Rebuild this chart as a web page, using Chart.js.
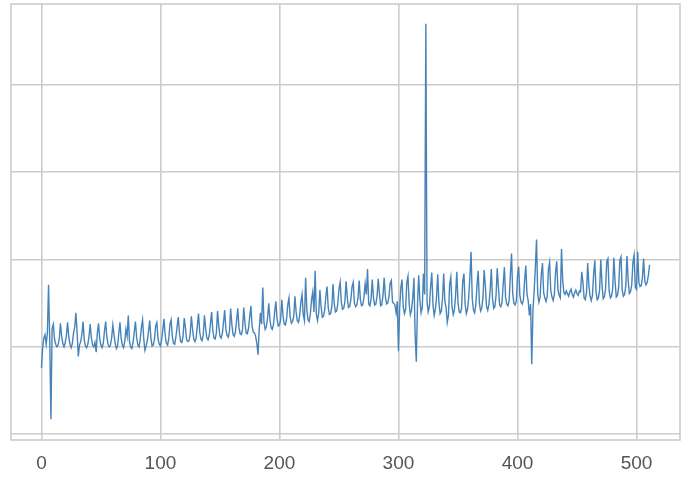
<!DOCTYPE html>
<html>
<head>
<meta charset="utf-8">
<script src="https://cdn.jsdelivr.net/npm/chart.js@4"></script>
<style>
  html, body { margin: 0; padding: 0; background: #ffffff; }
  canvas { display: block; }
</style>
</head>
<body>
<canvas id="lineChart" width="690" height="479"></canvas>
<script>
// series (y in gridline units, gridlines at 0,10,20,30,40)
const seriesValues = [
  7.6, 9.8, 11.0, 11.4, 10.3, 11.5, 17.1, 10.8, 1.7, 12.1, 12.6, 10.9, 10.3, 10.0,
  10.2, 10.9, 12.7, 11.2, 10.4, 10.0, 10.5, 11.3, 12.8, 11.1, 10.3, 9.9, 10.4, 11.6,
  12.3, 13.9, 11.6, 8.9, 10.2, 10.6, 11.4, 12.9, 10.8, 10.1, 9.9, 10.3, 11.2, 12.6,
  11.0, 10.2, 10.0, 10.5, 9.4, 11.6, 12.7, 10.9, 10.2, 9.9, 10.4, 11.8, 12.9, 11.1,
  10.3, 10.0, 10.2, 11.0, 12.5, 11.4, 10.4, 9.8, 10.1, 11.5, 12.8, 11.0, 10.2, 9.9,
  10.6, 12.0, 11.2, 13.6, 10.6, 10.0, 9.8, 10.5, 11.7, 12.9, 11.1, 10.2, 10.0, 10.8,
  12.2, 13.1, 10.9, 9.6, 10.1, 10.7, 11.8, 13.0, 11.0, 10.1, 10.2, 10.9, 12.4, 12.8,
  10.9, 10.3, 10.1, 10.8, 12.0, 13.2, 11.3, 10.4, 10.2, 10.9, 12.6, 13.1, 11.2, 10.4,
  10.3, 11.1, 12.3, 13.4, 11.5, 10.6, 10.5, 11.2, 13.3, 12.2, 10.8, 10.6, 10.7, 11.5,
  13.5, 12.0, 10.9, 10.6, 11.0, 12.4, 13.8, 11.7, 10.9, 10.7, 11.4, 13.6, 12.1, 11.0,
  10.8, 11.3, 12.6, 14.0, 11.9, 11.0, 10.9, 11.6, 14.1, 12.4, 11.2, 11.0, 11.5, 12.8,
  14.2, 12.0, 11.3, 11.1, 11.8, 14.4, 12.6, 11.4, 11.2, 11.7, 13.0, 14.4, 12.2, 11.5,
  11.4, 12.0, 14.5, 12.8, 11.6, 11.5, 12.1, 13.4, 14.7, 12.4, 11.7, 11.6, 11.2, 10.4,
  9.1, 12.0, 13.9, 12.6, 16.8, 12.8, 12.0, 12.3, 13.3, 15.0, 13.1, 12.2, 12.0, 12.6,
  14.0, 15.2, 13.2, 12.4, 12.5, 13.1, 15.4, 13.6, 12.6, 12.5, 13.2, 14.8, 15.6, 13.4,
  12.7, 12.9, 13.5, 15.8, 14.0, 13.0, 12.8, 13.6, 15.1, 16.0, 13.7, 13.0, 17.9, 14.3,
  13.1, 12.9, 13.8, 15.4, 16.3, 14.0, 18.7, 13.7, 13.0, 13.9, 16.5, 14.6, 13.4, 13.5,
  14.2, 15.8, 16.9, 14.5, 13.7, 13.8, 14.6, 17.2, 15.0, 14.0, 14.1, 14.9, 16.6, 17.4,
  15.1, 14.3, 14.4, 15.2, 17.5, 15.6, 14.5, 14.6, 15.4, 16.9, 17.4, 15.0, 14.6, 14.8,
  15.6, 17.6, 15.4, 14.7, 14.8, 15.7, 17.2, 16.0, 18.9, 14.9, 14.7, 15.5, 17.7, 15.6,
  14.8, 14.9, 15.8, 17.8, 16.1, 14.7, 14.8, 15.9, 17.9, 15.8, 14.9, 15.0, 15.7, 17.3,
  17.6, 15.1, 15.0, 14.8, 13.9, 15.2, 9.5, 14.4, 16.8, 17.7, 14.6, 13.8, 14.3, 17.4,
  18.1, 14.9, 13.7, 14.2, 15.6, 17.9, 11.4, 8.3, 14.9, 18.2, 15.3, 13.9, 14.5, 18.4,
  16.0, 47.0, 15.2, 14.0, 14.6, 16.9, 18.5, 14.8, 13.6, 14.3, 15.7, 18.3, 15.0, 13.8,
  14.1, 15.5, 18.4, 15.2, 14.5, 12.8, 13.6, 17.2, 18.0, 14.6, 13.7, 14.2, 15.9, 18.6,
  15.1, 14.0, 13.9, 14.4, 17.5, 18.4, 14.9, 13.8, 14.3, 15.6, 18.0, 20.9, 15.5, 14.2,
  13.9, 14.8, 17.1, 18.7, 15.0, 14.1, 14.4, 15.7, 18.8, 17.0, 14.6, 14.2, 14.9, 16.4,
  18.9, 15.6, 14.4, 14.6, 15.9, 19.0, 16.8, 14.8, 14.6, 15.1, 17.2, 19.1, 15.7, 14.9,
  14.7, 15.3, 18.2, 20.7, 16.1, 15.0, 14.8, 15.2, 18.1, 19.2, 15.9, 15.1, 14.9, 15.4,
  17.6, 19.3, 16.0, 15.3, 13.6, 14.9, 8.0, 14.2, 16.4, 19.0, 22.3, 16.0, 15.1, 15.7,
  18.3, 19.6, 16.2, 15.6, 15.2, 15.8, 18.9, 19.7, 16.4, 15.7, 15.3, 16.0, 18.6, 19.8,
  16.5, 15.9, 15.6, 21.2, 17.6, 16.2, 16.0, 16.4, 16.1, 15.8, 16.3, 16.6, 16.0, 15.7,
  16.2, 16.5, 16.1, 15.9, 16.4, 16.3, 18.6, 17.4, 15.6, 15.4, 16.2, 19.6, 17.0, 15.8,
  15.3, 15.9, 18.4, 19.9, 16.3, 15.4, 15.6, 16.5, 20.0, 17.2, 15.5, 15.7, 16.6, 19.8,
  20.1, 16.4, 15.6, 15.8, 16.7, 20.2, 17.5, 15.7, 15.9, 16.8, 19.9, 20.3, 16.5, 15.8,
  16.0, 17.0, 20.4, 17.6, 16.1, 16.3, 17.1, 19.7, 20.5, 16.8, 16.6, 20.9, 17.4, 16.9,
  17.0, 18.0, 20.1, 17.5, 17.1, 17.4, 18.2, 19.4
];
const xTickValues = [0, 100, 200, 300, 400, 500];
const yTickValues = [0, 10, 20, 30, 40];

// frame round the plot area like the matplotlib axes box
const frameBox = {
  id: "frameBox",
  afterDraw(chart) {
    const a = chart.chartArea;
    const ctx = chart.ctx;
    ctx.save();
    ctx.strokeStyle = "#cccccc";
    ctx.lineWidth = 1.6;
    ctx.strokeRect(a.left, a.top, a.right - a.left, a.bottom - a.top);
    ctx.restore();
  }
};

let ctx = document.getElementById("lineChart").getContext("2d");
new Chart(ctx, {
  type: "line",
  data: {
    datasets: [{
      data: seriesValues.map((v, i) => ({ x: i, y: v })),
      borderColor: "rgb(70, 131, 184)",
      borderWidth: 1.4,
      pointRadius: 0,
      tension: 0,
      fill: false
    }]
  },
  options: {
    responsive: false,
    animation: false,
    layout: { padding: { left: 11, right: 10, top: 4, bottom: 6 } },
    plugins: { legend: { display: false }, tooltip: { enabled: false } },
    scales: {
      x: {
        type: "linear",
        min: -25.55,
        max: 536.55,
        afterBuildTicks: axis => { axis.ticks = xTickValues.map(v => ({ value: v })); },
        afterFit: axis => { axis.height = 33; },
        grid: { color: "#cccccc", lineWidth: 1.6, drawTicks: false },
        border: { display: false },
        ticks: {
          padding: 12,
          color: "#555555",
          font: { family: "'Liberation Sans Narrow', 'Liberation Sans'", size: 19 },
          maxRotation: 0
        }
      },
      y: {
        min: -0.67,
        max: 49.27,
        afterBuildTicks: axis => { axis.ticks = yTickValues.map(v => ({ value: v })); },
        grid: { color: "#cccccc", lineWidth: 1.6, drawTicks: false },
        border: { display: false },
        ticks: { display: false }
      }
    }
  },
  plugins: [frameBox]
});
</script>
</body>
</html>
